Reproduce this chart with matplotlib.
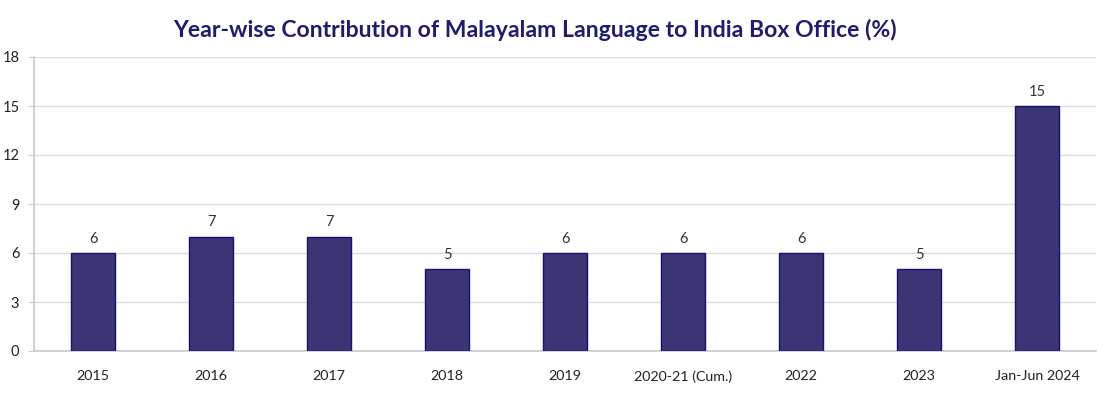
import matplotlib
matplotlib.use("Agg")
import matplotlib.pyplot as plt

categories = ["2015", "2016", "2017", "2018", "2019", "2020-21 (Cum.)", "2022", "2023", "Jan-Jun 2024"]
values = [6, 7, 7, 5, 6, 6, 6, 5, 15]
yticks = [0, 3, 6, 9, 12, 15, 18]

plt.rcParams['font.family'] = ['Lato', 'DejaVu Sans']

W, H = 1110, 403
fig = plt.figure(figsize=(W / 100, H / 100), dpi=100)
ax = fig.add_axes([34 / W, (H - 351) / H, (1096 - 34) / W, (351 - 57) / H])

x = list(range(len(categories)))
bars = ax.bar(x, values, width=0.375, color="#3b3575", edgecolor="#16136b", linewidth=1.0, zorder=3)
for xi, v in zip(x, values):
    ax.text(xi, v + 0.45, f"{v}", ha="center", va="bottom", fontsize=10.5, color="#333333")

ax.set_xlim(-0.5, len(categories) - 0.5)
ax.set_ylim(0, 18)
ax.set_yticks(yticks)
ax.set_xticks(x)
ax.set_xticklabels(categories, fontsize=10.3, color="#222222")
ax.tick_params(axis="y", labelsize=10.5, colors="#222222", length=4, color="#c8c8d0", pad=6.5)
ax.tick_params(axis="x", length=0, pad=14)
ax.grid(axis="y", color="#dcdde3", linewidth=1.0, zorder=0)
for s in ["top", "right"]:
    ax.spines[s].set_visible(False)
ax.spines["left"].set_color("#c8c8d0")
ax.spines["bottom"].set_color("#c8c8d0")
ax.spines["left"].set_linewidth(1.2)
ax.spines["bottom"].set_linewidth(1.2)

fig.text(535 / W, 1 - 30 / H, "Year-wise Contribution of Malayalam Language to India Box Office (%)",
         ha="center", va="center", fontsize=16.6, fontweight="bold", color="#1f1c6b")

fig.savefig("out.png", dpi=100)
